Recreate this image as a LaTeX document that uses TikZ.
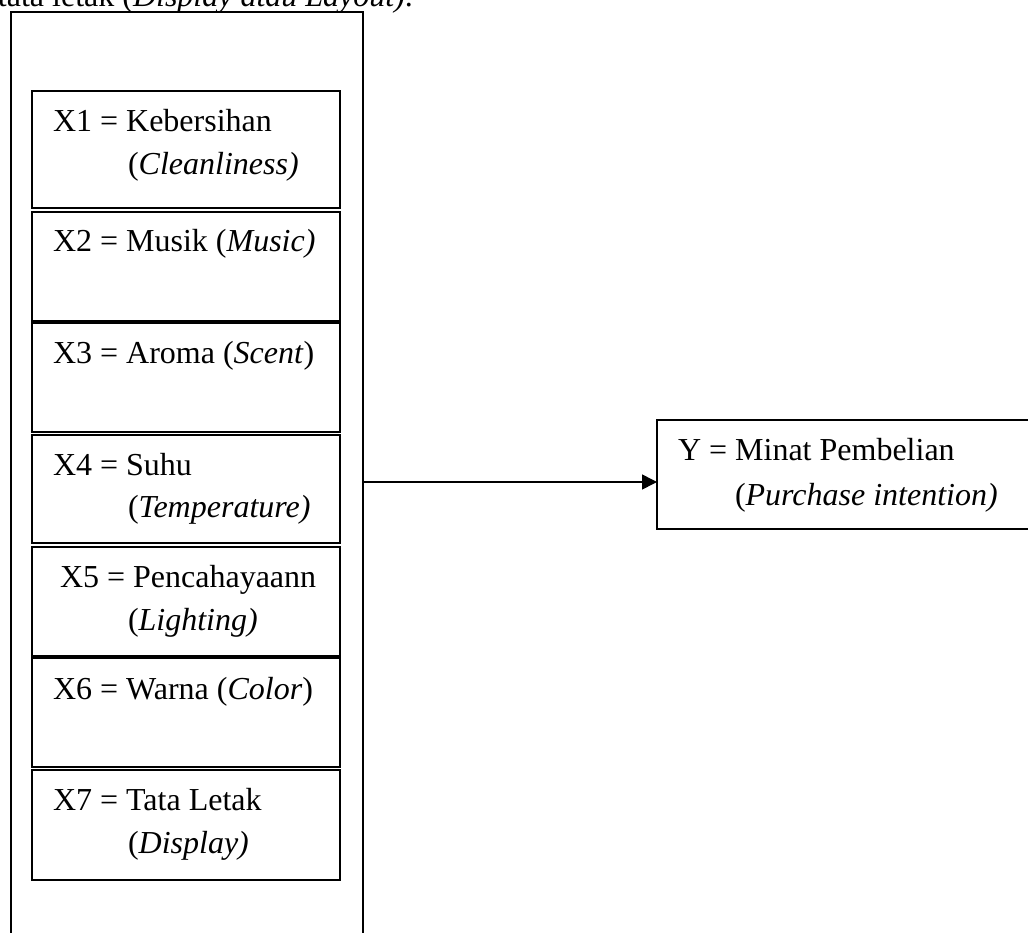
\documentclass[tikz,border=0pt]{standalone}
\usepackage{fontspec}
\setmainfont{Liberation Serif}
\usetikzlibrary{arrows.meta}
\tikzset{
  txt/.style={inner sep=0pt, outer sep=0pt, anchor=base west, font=\fontsize{32}{43}\selectfont},
  inbox/.style={draw, line width=1.6pt, inner sep=0pt, outer sep=0pt, anchor=north west, minimum width=308pt},
  outbox/.style={draw, line width=1.6pt, inner sep=0pt, outer sep=0pt, anchor=north west},
  conn/.style={line width=1.6pt, -{Triangle[length=15pt,width=15pt]}}
}
\begin{document}
\begin{tikzpicture}[x=1pt,y=-1pt]
\useasboundingbox (0,0) rectangle (1028,933);
\clip (0,0) rectangle (1028,933);
% cut-off heading text
\node[txt, anchor=base east] (head) at (413,7) {tata letak (\textit{Display atau Layout)}.};
% outer frame
\node[outbox, minimum width=352pt, minimum height=980pt] (outer) at (11,12) {};
% inner boxes
\node[inbox, minimum height=117pt] (b1) at (32,91) {};
\node[inbox, minimum height=109pt] (b2) at (32,212) {};
\node[inbox, minimum height=109pt] (b3) at (32,323) {};
\node[inbox, minimum height=108pt] (b4) at (32,435) {};
\node[inbox, minimum height=109pt] (b5) at (32,547) {};
\node[inbox, minimum height=109pt] (b6) at (32,658) {};
\node[inbox, minimum height=110pt] (b7) at (32,770) {};
% texts
\node[txt] (t1a) at (53,132) {X1 = Kebersihan};
\node[txt] (t1b) at (128,175) {(\textit{Cleanliness)}};
\node[txt] (t2a) at (53,252) {X2 = Musik (\textit{Music)}};
\node[txt] (t3a) at (53,363) {X3 = Aroma (\textit{Scent})};
\node[txt] (t4a) at (53,475) {X4 = Suhu};
\node[txt] (t4b) at (128,517) {(\textit{Temperature)}};
\node[txt] (t5a) at (60,587) {X5 = Pencahayaann};
\node[txt] (t5b) at (128,630) {(\textit{Lighting)}};
\node[txt] (t6a) at (53,699) {X6 = Warna (\textit{Color})};
\node[txt] (t7a) at (53,810) {X7 = Tata Letak};
\node[txt] (t7b) at (128,853) {(\textit{Display)}};
% dependent box
\node[outbox, minimum width=400pt, minimum height=109pt] (ybox) at (657,420) {};
\node[txt] (ya) at (678,460) {Y = Minat Pembelian};
\node[txt] (yb) at (735,505) {(\textit{Purchase intention)}};
% connector
\coordinate (arr) at (0,482);
\draw[conn] (outer.east |- arr) -- (ybox.west |- arr);
\end{tikzpicture}
\end{document}
